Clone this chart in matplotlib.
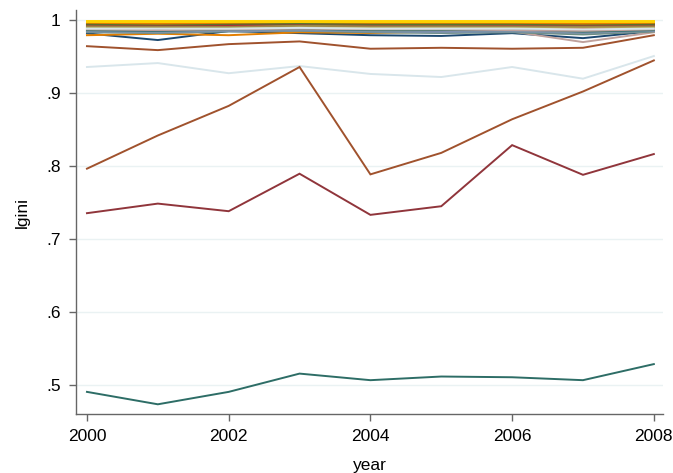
import matplotlib
matplotlib.use("Agg")
import matplotlib.pyplot as plt

plt.rcParams['font.family'] = ['Liberation Sans', 'DejaVu Sans']

years = [2000, 2001, 2002, 2003, 2004, 2005, 2006, 2007, 2008]

# Stata s2color palette, cycled over the panel units
palette = ["#1a476f", "#90353b", "#55752f", "#e37e00", "#6e8e84",
           "#c10534", "#938dd2", "#cac27e", "#a0522d", "#7b92a8",
           "#2d6d66", "#9c8847", "#bfa19c", "#ffd200", "#d9e6eb"]

# lgini by unit (one list per unit, years 2000-2008)
u01 = [.9815, .9724, .9847, .9818, .9790, .9780, .9818, .9750, .9847]
u02 = [.7355, .7486, .7382, .7895, .7332, .7450, .8286, .7880, .8164]
u03 = [.9950, .9940, .9950, .9960, .9950, .9950, .9940, .9940, .9950]
u04 = [.9790, .9810, .9790, .9830, .9820, .9840, .9880, .9890, .9900]
u05 = [.9850, .9840, .9860, .9870, .9850, .9840, .9860, .9830, .9850]
u06 = [.9930, .9920, .9930, .9940, .9930, .9930, .9920, .9930, .9930]
u07 = [.9860, .9850, .9860, .9870, .9860, .9850, .9860, .9840, .9860]
u08 = [.9910, .9900, .9880, .9930, .9910, .9910, .9920, .9900, .9910]
u09 = [.9640, .9586, .9668, .9705, .9605, .9618, .9605, .9618, .9790]
u10 = [.9840, .9830, .9850, .9860, .9840, .9830, .9850, .9820, .9840]
u11 = [.4910, .4740, .4910, .5160, .5070, .5120, .5110, .5070, .5290]
u12 = [.9920, .9910, .9910, .9930, .9920, .9920, .9930, .9910, .9920]
u13 = [.9850, .9830, .9860, .9870, .9850, .9830, .9840, .9696, .9830]
u14 = [.9980, .9980, .9980, .9980, .9980, .9980, .9980, .9980, .9980]
u15 = [.9355, .9409, .9270, .9368, .9260, .9218, .9355, .9195, .9505]
u16 = [.9870, .9860, .9880, .9890, .9870, .9860, .9870, .9840, .9870]
u17 = [.9920, .9915, .9920, .9930, .9920, .9915, .9920, .9915, .9920]
u18 = [.9945, .9940, .9945, .9950, .9945, .9940, .9945, .9940, .9945]
u19 = [.9960, .9950, .9960, .9970, .9960, .9960, .9960, .9950, .9960]
u20 = [.9830, .9820, .9840, .9850, .9830, .9820, .9830, .9800, .9840]
u21 = [.9900, .9890, .9910, .9920, .9900, .9900, .9910, .9890, .9900]
u22 = [.9850, .9840, .9850, .9860, .9850, .9840, .9850, .9840, .9850]
u23 = [.9900, .9895, .9900, .9905, .9900, .9895, .9900, .9895, .9900]
u24 = [.7964, .8418, .8823, .9355, .7886, .8180, .8640, .9020, .9445]
u25 = [.9840, .9830, .9850, .9860, .9840, .9830, .9840, .9820, .9850]
u26 = [.9860, .9850, .9870, .9880, .9860, .9860, .9870, .9840, .9860]
u27 = [.9910, .9905, .9905, .9920, .9910, .9910, .9910, .9905, .9910]
u28 = [.9870, .9860, .9870, .9880, .9870, .9870, .9860, .9850, .9870]
u29 = [.9970, .9970, .9970, .9970, .9970, .9970, .9970, .9970, .9970]
u30 = [.9880, .9880, .9880, .9890, .9880, .9880, .9880, .9870, .9880]

units = [u01, u02, u03, u04, u05, u06, u07, u08, u09, u10,
         u11, u12, u13, u14, u15, u16, u17, u18, u19, u20,
         u21, u22, u23, u24, u25, u26, u27, u28, u29, u30]

ytick_vals = [0.5, 0.6, 0.7, 0.8, 0.9, 1.0]
ytick_labels = [".5", ".6", ".7", ".8", ".9", "1"]
xtick_vals = [2000, 2002, 2004, 2006, 2008]

fig = plt.figure(figsize=(6.73, 4.73), dpi=100)
ax = fig.add_axes([0.1129, 0.1247, 0.872, 0.854])

for v in ytick_vals:
    ax.axhline(v, color="#eaf2f3", lw=1.0, zorder=0)

for i, series in enumerate(units):
    ax.plot(years, series, color=palette[i % len(palette)], lw=1.4,
            solid_joinstyle="miter", zorder=2)

ax.set_xlim(1999.845, 2008.127)
ax.set_ylim(0.4607, 1.0134)
ax.set_yticks(ytick_vals)
ax.set_yticklabels(ytick_labels)
ax.set_xticks(xtick_vals)
ax.set_xticklabels([str(x) for x in xtick_vals])

for side in ("top", "right"):
    ax.spines[side].set_visible(False)
for side in ("left", "bottom"):
    ax.spines[side].set_color("#666666")
    ax.spines[side].set_linewidth(1.0)

ax.tick_params(axis="both", direction="out", length=5, width=1.0,
               color="#666666", labelsize=12.5, labelcolor="#000000", pad=6)
ax.set_xlabel("year", fontsize=12.5, color="#000000", labelpad=10)
ax.set_ylabel("lgini", fontsize=12.5, color="#000000", labelpad=12)

fig.savefig("out.png", dpi=100, facecolor="white")
